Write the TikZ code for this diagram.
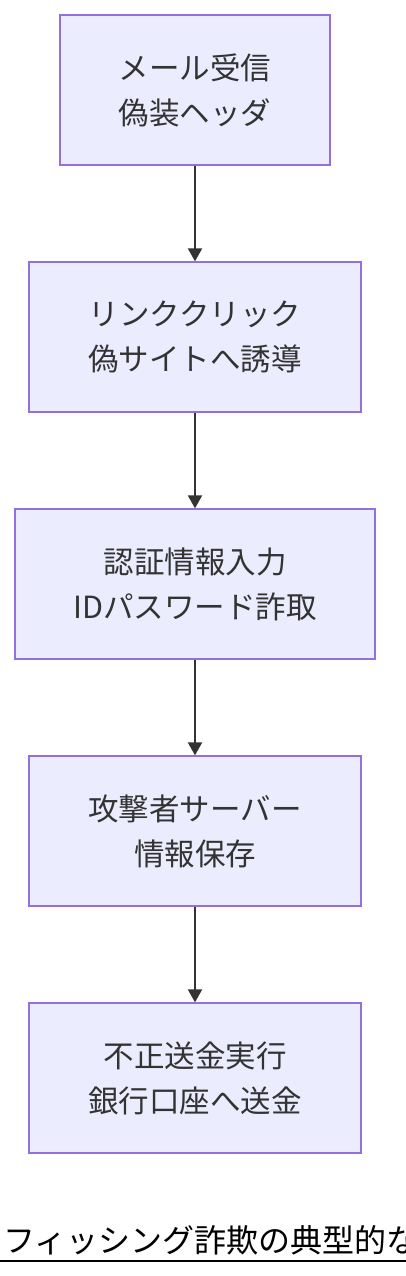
\documentclass[tikz,border=0pt]{standalone}
\usepackage{fontspec}
\setmainfont{Noto Sans CJK JP}
\usetikzlibrary{arrows.meta}
\definecolor{boxfill}{HTML}{ECECFF}
\definecolor{boxline}{HTML}{9370DB}
\definecolor{arrowc}{HTML}{333333}
\definecolor{textc}{HTML}{333333}
\begin{document}
\begin{tikzpicture}[x=1pt,y=-1pt,
  stepbox/.style={draw=boxline, fill=boxfill, line width=1.3pt, inner sep=0pt,
    minimum height=150pt, align=center, text=textc,
    font=\fontsize{30.5}{45}\selectfont},
  flow/.style={draw=arrowc, line width=2pt, -{Triangle[length=13pt,width=14pt]}, shorten >=0pt}
]
\useasboundingbox (0,0) rectangle (406,1276);
\clip (0,0) rectangle (406,1276);
\node[stepbox, minimum width=270pt] (n1) at (195,90) {メール受信\\偽装ヘッダ};
\node[stepbox, minimum width=332pt] (n2) at (195,337) {リンククリック\\偽サイトへ誘導};
\node[stepbox, minimum width=360pt] (n3) at (195,584) {認証情報入力\\IDパスワード詐取};
\node[stepbox, minimum width=332pt] (n4) at (195,831) {攻撃者サーバー\\情報保存};
\node[stepbox, minimum width=332pt] (n5) at (195,1078) {不正送金実行\\銀行口座へ送金};
\draw[flow] (n1.south) -- (n2.north);
\draw[flow] (n2.south) -- (n3.north);
\draw[flow] (n3.south) -- (n4.north);
\draw[flow] (n4.south) -- (n5.north);
\node[anchor=base west, inner sep=0pt, font=\fontsize{32}{36}\selectfont, text=black] (title) at (3,1252) {フィッシング詐欺の典型的な};
\draw[line width=2pt, black] (0,1261) -- (406,1261);
\end{tikzpicture}
\end{document}
